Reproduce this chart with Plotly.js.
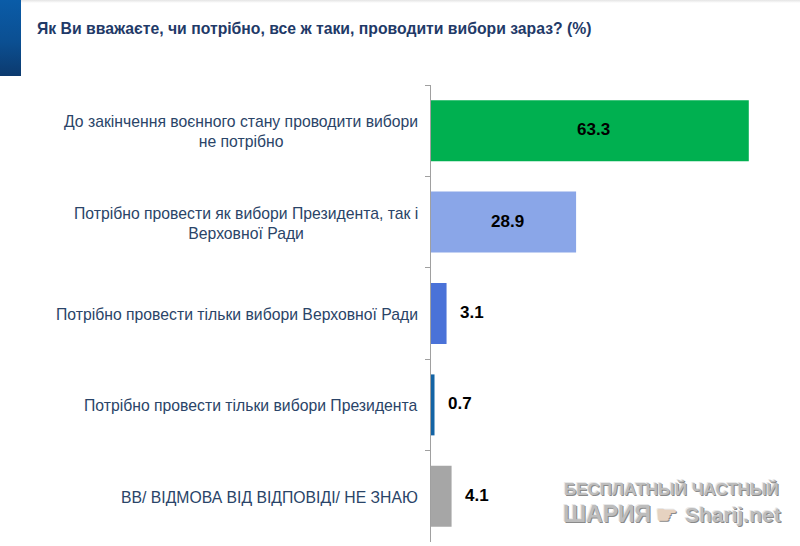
<!DOCTYPE html>
<html><head><meta charset="utf-8">
<script src="https://cdn.plot.ly/plotly-3.0.1.min.js"></script>
<style>
html,body{margin:0;padding:0;background:#fff;overflow:hidden}
#wrap{position:relative;width:800px;height:546px}
#band{position:absolute;left:0;top:0;width:21px;height:76px;background:linear-gradient(180deg,#0a5ca8 0%,#0b4f92 55%,#0c3a6e 100%)}
#shade{position:absolute;left:0;top:0;width:800px;height:3px;background:linear-gradient(180deg,#e4e4e4,#ffffff)}
#chart{position:absolute;left:0;top:0;width:800px;height:546px}
</style></head><body>
<div id="wrap"><div id="shade"></div><div id="band"></div><div id="chart"></div></div>
<script>
const titleText = 'Як Ви вважаєте, чи потрібно, все ж таки, проводити вибори зараз? (%)';
const categories = [
  'До закінчення воєнного стану проводити вибори<br>не потрібно',
  'Потрібно провести як вибори Президента, так і<br>Верховної Ради',
  'Потрібно провести тільки вибори Верховної Ради',
  'Потрібно провести тільки вибори Президента',
  'ВВ/ ВІДМОВА ВІД ВІДПОВІДІ/ НЕ ЗНАЮ'
];
const values = [63.3, 28.9, 3.1, 0.7, 4.1];
const barColors = ['#00b050', '#8aa6e8', '#4a72d8', '#1464a5', '#a6a6a6'];
const textColor = '#2a4468';
const font = 'Liberation Sans, Arial, sans-serif';

const labelAnn = categories.map(c => ({
  text: c, xref: 'paper', yref: 'y', x: -0.0299, y: c, xanchor: 'right', yanchor: 'middle', yshift: -1,
  align: 'center', showarrow: false, font: {family: font, size: 15.75, color: textColor}
}));
const valueAnn = values.map((v, i) => {
  const inside = v > 10;
  return {
    text: v.toFixed(1), xref: 'x', yref: 'y', x: inside ? v / 2 : v, y: categories[i],
    xanchor: inside ? 'center' : 'left', yanchor: 'middle', xshift: inside ? 4 : 11, yshift: 1,
    showarrow: false, font: {family: font, size: 17, color: '#000', weight: 700}
  };
});
const titleAnn = {
  text: '<b>' + titleText + '</b>', xref: 'paper', yref: 'paper', x: -1.0732, y: 1.1235,
  xanchor: 'left', yanchor: 'middle', showarrow: false,
  font: {family: font, size: 15.75, color: '#1f3a68'}
};
const wmFont = {family: 'Liberation Sans, Arial, sans-serif', color: '#bdbdbd', weight: 700,
  shadow: '1px 1px 0 #8a8a8a, -1px -1px 0 #e8e8e8'};
const wmAnn = [
  {text: 'БЕСПЛАТНЫЙ ЧАСТНЫЙ', x: 671, y: 488, size: 17},
  {text: 'ШАРИЯ', x: 607, y: 513, size: 23},
  {text: '☛', x: 667, y: 513, size: 24, color: '#e6d2c0'},
  {text: 'Sharij.net', x: 733, y: 513, size: 21}
].map(w => ({
  text: w.text, xref: 'paper', yref: 'paper',
  x: (w.x - 431) / 369, y: (540.5 - w.y) / 456.5, xanchor: 'center', yanchor: 'middle',
  showarrow: false, font: Object.assign({}, wmFont, {size: w.size, color: w.color || wmFont.color})
}));

Plotly.newPlot('chart', [{
  type: 'bar', orientation: 'h', x: values, y: categories,
  marker: {color: barColors, line: {width: 0}}, hoverinfo: 'skip', cliponaxis: false
}], {
  width: 800, height: 546,
  margin: {l: 431, r: 0, t: 84.5, b: 4, pad: 0},
  paper_bgcolor: 'rgba(0,0,0,0)', plot_bgcolor: 'rgba(0,0,0,0)',
  showlegend: false, bargap: 0.333,
  xaxis: {range: [0, 73.5], visible: false, fixedrange: true},
  yaxis: {
    type: 'category', categoryorder: 'array', categoryarray: categories, autorange: 'reversed',
    tickson: 'boundaries', ticks: 'outside', ticklen: 5, tickwidth: 1, tickcolor: '#a0a0a0',
    showline: true, linecolor: '#a0a0a0', linewidth: 1, showticklabels: false, showgrid: false, zeroline: false
  },
  annotations: [titleAnn, ...labelAnn, ...valueAnn, ...wmAnn]
}, {displayModeBar: false, staticPlot: true});
</script></body></html>
